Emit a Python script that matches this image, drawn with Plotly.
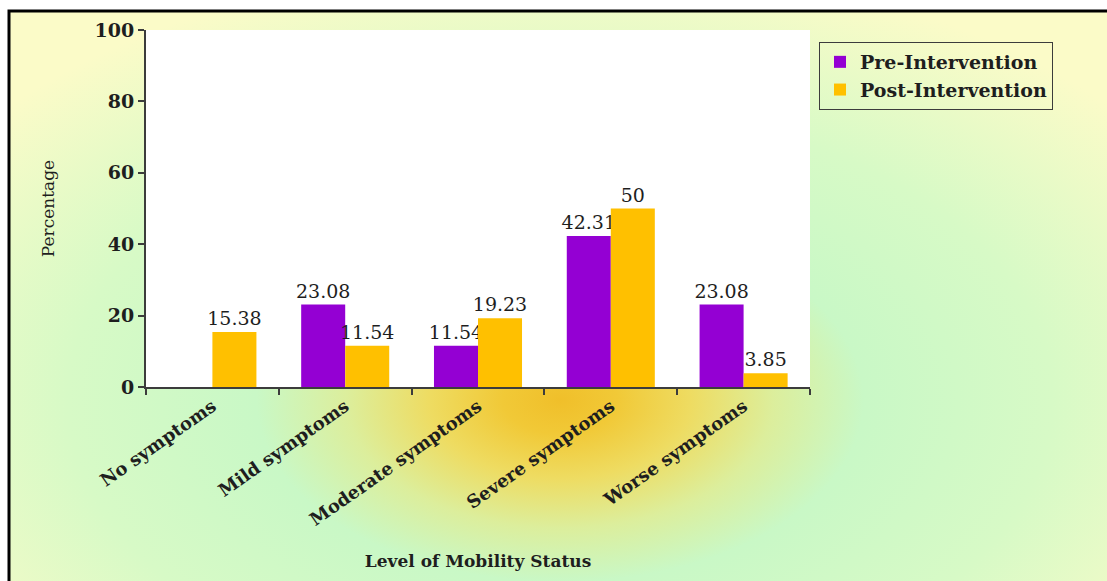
import base64
import plotly.graph_objects as go

# Mobility status categories and percentages per group
categories = ["No symptoms", "Mild symptoms", "Moderate symptoms", "Severe symptoms", "Worse symptoms"]
pre_intervention = [0, 23.08, 11.54, 42.31, 23.08]
post_intervention = [15.38, 11.54, 19.23, 50, 3.85]
y_ticks = [0, 20, 40, 60, 80, 100]

W, H = 1107, 581
M = dict(l=146, r=297, t=30, b=194)
PW = W - M["l"] - M["r"]
PH = H - M["t"] - M["b"]

PRE_COLOR = "#9400d3"
POST_COLOR = "#ffc000"
INK = "#1e1e1e"
AXIS = "#3c3c3c"
SERIF = "DejaVu Serif"


def value_labels(values):
    return [f"{v:g}" if v else "" for v in values]


# Page background: framed, soft radial wash from gold through mint to pale yellow
svg = f"""<svg xmlns="http://www.w3.org/2000/svg" width="{W}" height="{H}" viewBox="0 0 {W} {H}">
<defs>
<radialGradient id="wash" gradientUnits="userSpaceOnUse" cx="560" cy="400" r="820"
 gradientTransform="translate(560 400) scale(1 0.6) translate(-560 -400)">
<stop offset="0" stop-color="#f0bf2a"/>
<stop offset="0.07" stop-color="#f1c937"/>
<stop offset="0.16" stop-color="#eedc62"/>
<stop offset="0.26" stop-color="#dcee9c"/>
<stop offset="0.37" stop-color="#c9f8c6"/>
<stop offset="0.6" stop-color="#d7fac6"/>
<stop offset="0.9" stop-color="#fbfbc8"/>
</radialGradient>
</defs>
<rect width="{W}" height="{H}" fill="#ffffff"/>
<rect x="9" y="11" width="{W + 10}" height="{H + 10}" fill="url(#wash)" stroke="#000000" stroke-width="3"/>
</svg>"""
bg_uri = "data:image/svg+xml;base64," + base64.b64encode(svg.encode()).decode()

label_font = dict(family=SERIF, size=19, color=INK)

fig = go.Figure()
fig.add_trace(go.Bar(
    name="Pre-Intervention", x=categories, y=pre_intervention,
    marker=dict(color=PRE_COLOR, line=dict(width=0)),
    text=value_labels(pre_intervention), textposition="outside",
    textfont=label_font, constraintext="none", cliponaxis=False,
))
fig.add_trace(go.Bar(
    name="Post-Intervention", x=categories, y=post_intervention,
    marker=dict(color=POST_COLOR, line=dict(width=0)),
    text=value_labels(post_intervention), textposition="outside",
    textfont=label_font, constraintext="none", cliponaxis=False,
))

fig.update_layout(
    width=W, height=H,
    margin=dict(l=M["l"], r=M["r"], t=M["t"], b=M["b"], autoexpand=False),
    paper_bgcolor="#ffffff", plot_bgcolor="#ffffff",
    barmode="group", bargap=0.337, bargroupgap=0,
    font=dict(family=SERIF, color=INK),
    images=[dict(
        source=bg_uri, xref="paper", yref="paper",
        x=-M["l"] / PW, y=1 + M["t"] / PH,
        sizex=W / PW, sizey=H / PH,
        xanchor="left", yanchor="top", sizing="stretch", layer="below",
    )],
    shapes=[dict(
        type="rect", xref="paper", yref="paper", x0=0, x1=1, y0=0, y1=1,
        fillcolor="#ffffff", line=dict(width=0), layer="below",
    )],
    legend=dict(
        x=(819 - M["l"]) / PW, y=(387 - 42) / PH, xanchor="left", yanchor="top",
        bgcolor="rgba(0,0,0,0)", bordercolor=AXIS, borderwidth=1,
        font=dict(family=SERIF, size=19, color=INK, weight="bold"),
        itemwidth=30, tracegroupgap=0,
    ),
    xaxis=dict(
        tickson="boundaries", ticks="outside", ticklen=6, tickwidth=2, tickcolor=AXIS,
        showline=True, linecolor=AXIS, linewidth=2, showgrid=False,
        tickangle=-35, tickfont=dict(family=SERIF, size=18, color=INK, weight="bold"),
        title=dict(text="Level of Mobility Status", standoff=26,
                   font=dict(family=SERIF, size=17, color=INK, weight="bold")),
    ),
    yaxis=dict(
        range=[0, 100], tickvals=y_ticks, ticks="outside", ticklen=6, tickwidth=2,
        tickcolor=AXIS, showline=True, linecolor=AXIS, linewidth=2,
        showgrid=False, zeroline=False,
        tickfont=dict(family=SERIF, size=19, color=INK, weight="bold"),
        title=dict(text="Percentage", standoff=36,
                   font=dict(family=SERIF, size=17, color=INK)),
    ),
)

fig.write_html("out.html")
